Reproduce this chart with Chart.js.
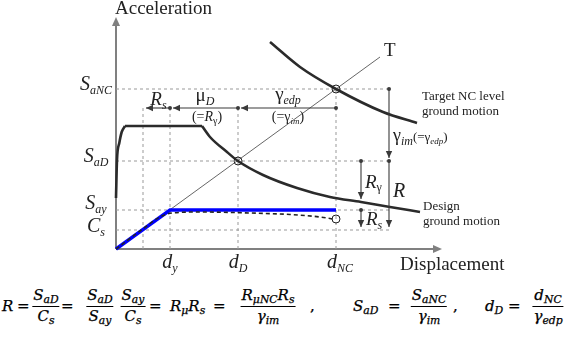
<!DOCTYPE html>
<html><head><meta charset="utf-8">
<script src="https://cdn.jsdelivr.net/npm/chart.js@4/dist/chart.umd.min.js"></script>
<style>
html,body{margin:0;padding:0;background:#fff;}
#wrap{position:relative;width:568px;height:337px;overflow:hidden;background:#fff;}
#c{position:absolute;left:0;top:0;}
.eq{position:absolute;font-family:"DejaVu Serif",serif;font-style:italic;font-size:15px;line-height:16px;color:#000;white-space:nowrap;-webkit-text-stroke:0.25px #000;}
.eq .s{font-size:0.72em;position:relative;top:0.3em;}
.eq .u{font-style:normal;}
.fr{transform:translateX(-50%);text-align:center;}
.fr .n{display:block;padding:0 1px 1px 1px;}
.fr .d{display:block;border-top:1px solid #000;padding:1px 1px 0 1px;}
</style></head>
<body><div id="wrap"><canvas id="c" width="568" height="285"></canvas><div id="eqs"></div></div>
<script>
// ---- levels (schematic units) ----
const xLevelNames = ['Rs', 'dy', 'dD', 'dNC', 'xR1', 'xR2'];
const xLevels     = [2.7, 5.4, 12.2, 22.0, 24.5, 27.3];
const yLevelNames = ['Cs', 'Say', 'SaD', 'SaNC', 'arrowRow', 'curveAtR'];
const yLevels     = [1.9, 3.9, 8.8, 16.0, 14.1, 4.7];
const L = {};
xLevelNames.forEach((n,i)=>L[n]=xLevels[i]);
yLevelNames.forEach((n,i)=>L[n]=yLevels[i]);

// ---- curves ----
const designRiseX  = [0, 0.1, 0.33, 0.57, 0.9];
const designRiseY  = [5.1, 8.9, 10.6, 11.7, 12.3];
const designPlatX  = [0.9, 8.6];
const designPlatY  = [12.3, 12.3];
const designFallX  = [8.6, 9.4, 11.1, 12.2, 14.7, 18.1, 21.4, 24.5, 27.4, 30.4];
const designFallY  = [12.3, 11.2, 9.7, 8.8, 7.4, 6.1, 5.2, 4.7, 4.2, 3.7];
const targetX      = [15.4, 18.4, 22.0, 26.7, 30.1];
const targetY      = [20.7, 18.2, 16.0, 13.7, 12.6];
const periodX      = [0, 26.4];
const periodY      = [0, 19.2];
const bilinearX    = [0, 5.4, 22.0];
const bilinearY    = [0, 3.9, 3.9];
const pushoverX    = [0, 2.4, 4.4, 5.6, 8.4, 13.4, 17.4, 20.4, 21.7];
const pushoverY    = [0, 1.8, 3.2, 3.6, 3.7, 3.6, 3.45, 3.2, 3.0];
const markerX      = [22.0, 12.2, 22.0];
const markerY      = [16.0, 8.8, 3.0];

const X_MAX = 32.6, Y_MAX = 23.2;

function pts(xs, ys){ return xs.map((x,i)=>({x:x, y:ys[i]})); }
function line(xs, ys, st){
  return Object.assign({data: pts(xs,ys), showLine:true, pointRadius:0, pointHoverRadius:0, clip:false, tension:0, fill:false}, st);
}
const gridStyle = {borderColor:'#9a9a9a', borderWidth:1, borderDash:[3,3], order:20};

const datasets = [
  line(markerX, markerY, {showLine:false, pointRadius:4, pointBackgroundColor:'rgba(255,255,255,0)', pointBorderColor:'#222', pointBorderWidth:1, order:0}),
  line(bilinearX, bilinearY, {borderColor:'#0000ff', borderWidth:3.5, order:2}),
  line(pushoverX, pushoverY, {borderColor:'#222', borderWidth:1.6, borderDash:[4,3], cubicInterpolationMode:'monotone', order:1}),
  line(designRiseX, designRiseY, {borderColor:'#2b2b2b', borderWidth:2.6, cubicInterpolationMode:'monotone', order:3}),
  line(designPlatX, designPlatY, {borderColor:'#2b2b2b', borderWidth:2.6, order:3}),
  line(designFallX, designFallY, {borderColor:'#2b2b2b', borderWidth:2.6, cubicInterpolationMode:'monotone', order:3}),
  line(targetX, targetY, {borderColor:'#2b2b2b', borderWidth:2.6, cubicInterpolationMode:'monotone', order:3}),
  line(periodX, periodY, {borderColor:'#555', borderWidth:0.9, order:4}),
  // dashed reference lines
  line([0, L.xR2], [L.SaNC, L.SaNC], gridStyle),
  line([0, L.xR2], [L.SaD, L.SaD], gridStyle),
  line([0, L.xR2], [L.Say, L.Say], gridStyle),
  line([0, L.xR2], [L.Cs, L.Cs], gridStyle),
  line([L.Rs, L.Rs], [0, L.arrowRow], gridStyle),
  line([L.dy, L.dy], [0, L.arrowRow], gridStyle),
  line([L.dD, L.dD], [0, L.arrowRow], gridStyle),
  line([L.dNC, L.dNC], [0, L.SaNC], gridStyle),
];

// dimension arrows: [fromX, fromY, toX, toY]
const arrows = [
  [L.dy, L.arrowRow, L.Rs, L.arrowRow],
  [L.dD, L.arrowRow, L.dy, L.arrowRow],
  [L.dNC, L.arrowRow, L.dD, L.arrowRow],
  [L.xR2, L.SaNC, L.xR2, L.SaD],
  [L.xR2, L.SaD, L.xR2, L.Cs],
  [L.xR1, L.SaD, L.xR1, L.curveAtR],
  [L.xR1, L.Say, L.xR1, L.Cs],
];

const SERIF = '"Liberation Serif","Times New Roman",serif';
function P(t, size, italic, dy){ return {t:t, f:(italic?'italic ':'')+size+'px '+SERIF, dy:dy||0}; }
function rich(ctx, x, y, parts, align){
  let w = 0;
  parts.forEach(p=>{ctx.font=p.f; p.w=ctx.measureText(p.t).width; w+=p.w;});
  let cx = align==='right' ? x-w : align==='center' ? x-w/2 : x;
  parts.forEach(p=>{ctx.font=p.f; ctx.fillText(p.t, cx, y+p.dy); cx+=p.w;});
}
function head(ctx, x1,y1,x2,y2, len, wid){
  const a = Math.atan2(y2-y1, x2-x1);
  ctx.beginPath();
  ctx.moveTo(x2,y2);
  ctx.lineTo(x2-len*Math.cos(a)+wid*Math.sin(a), y2-len*Math.sin(a)-wid*Math.cos(a));
  ctx.lineTo(x2-len*Math.cos(a)-wid*Math.sin(a), y2-len*Math.sin(a)+wid*Math.cos(a));
  ctx.closePath(); ctx.fill();
}

const schematic = {
  id:'schematic',
  beforeDatasetsDraw(chart){
    const ctx = chart.ctx, xs = chart.scales.x, ys = chart.scales.y;
    const x0 = xs.getPixelForValue(0), y0 = ys.getPixelForValue(0);
    const xe = xs.getPixelForValue(X_MAX), ye = ys.getPixelForValue(Y_MAX);
    ctx.save();
    ctx.strokeStyle = '#808080'; ctx.fillStyle = '#808080'; ctx.lineWidth = 2;
    ctx.beginPath(); ctx.moveTo(x0, y0); ctx.lineTo(x0, ye+6); ctx.stroke();
    ctx.beginPath(); ctx.moveTo(x0, y0); ctx.lineTo(xe-6, y0); ctx.stroke();
    head(ctx, x0, y0, x0, ye, 9, 4);
    head(ctx, x0, y0, xe, y0, 9, 4);
    ctx.restore();
  },
  afterDatasetsDraw(chart){
    const ctx = chart.ctx, xs = chart.scales.x, ys = chart.scales.y;
    const X = v=>xs.getPixelForValue(v), Y = v=>ys.getPixelForValue(v);
    ctx.save();
    // arrows
    ctx.strokeStyle = '#3a3a3a'; ctx.fillStyle = '#3a3a3a'; ctx.lineWidth = 1.1;
    arrows.forEach(a=>{
      const x1=X(a[0]), y1=Y(a[1]); let x2=X(a[2]), y2=Y(a[3]);
      const d = Math.hypot(x2-x1,y2-y1), ux=(x2-x1)/d, uy=(y2-y1)/d;
      x2 -= ux*3; y2 -= uy*3;
      ctx.beginPath(); ctx.moveTo(x1,y1); ctx.lineTo(x2,y2); ctx.stroke();
      head(ctx, x1,y1,x2,y2, 7, 3.2);
      ctx.beginPath(); ctx.arc(x1,y1,2,0,Math.PI*2); ctx.fill();
    });
    ctx.fillStyle = '#222'; ctx.textBaseline = 'alphabetic';
    // axis titles
    rich(ctx, X(0)-1, 14, [P('Acceleration',19,0)], 'left');
    rich(ctx, X(X_MAX)-42, Y(0)+21, [P('Displacement',19,0)], 'left');
    // y tick labels
    rich(ctx, X(0)-20, Y(L.SaNC)+1, [P('S',20,1), P('aNC',12,1,4)], 'center');
    rich(ctx, X(0)-20, Y(L.SaD)+1, [P('S',20,1), P('aD',12,1,4)], 'center');
    rich(ctx, X(0)-20, Y(L.Say)-1, [P('S',20,1), P('ay',12,1,4)], 'center');
    rich(ctx, X(0)-20, Y(L.Cs)+2, [P('C',20,1), P('s',12,1,4)], 'center');
    // x tick labels
    rich(ctx, X(L.dy), Y(0)+19, [P('d',20,1), P('y',12,1,4)], 'center');
    rich(ctx, X(L.dD), Y(0)+19, [P('d',20,1), P('D',12,1,4)], 'center');
    rich(ctx, X(L.dNC)+4, Y(0)+19, [P('d',20,1), P('NC',12,1,4)], 'center');
    // top arrow row labels
    const ar = Y(L.arrowRow);
    rich(ctx, (X(L.Rs)+X(L.dy))/2+2, ar-3, [P('R',19,1), P('s',12,1,4)], 'center');
    rich(ctx, (X(L.dy)+X(L.dD))/2+1, ar-7, [P('μ',19,0), P('D',12,1,4)], 'center');
    rich(ctx, (X(L.dy)+X(L.dD))/2+3, ar+13, [P('(=',14,0), P('R',14,1), P('γ',10,0,3), P(')',14,0)], 'center');
    rich(ctx, (X(L.dD)+X(L.dNC))/2+1, ar-8, [P('γ',19,0), P('edp',12,1,4)], 'center');
    rich(ctx, (X(L.dD)+X(L.dNC))/2+1, ar+13, [P('(=γ',14,0), P('im',9,1,3), P(')',14,0)], 'center');
    // T label
    rich(ctx, X(periodX[1])+4, Y(periodY[1])-1, [P('T',19,0)], 'left');
    // right side labels
    rich(ctx, X(L.xR2)+33, Y(L.SaNC)+11, [P('Target NC level',13,0)], 'left');
    rich(ctx, X(L.xR2)+33, Y(L.SaNC)+26, [P('ground motion',13,0)], 'left');
    rich(ctx, X(L.xR2)+4, Y(L.SaD)-20, [P('γ',18,0), P('im',12,1,4), P('(=γ',13,0), P('edp',9,1,3), P(')',13,0)], 'left');
    rich(ctx, X(L.xR2)+4, Y(L.SaD)+36, [P('R',20,1)], 'left');
    rich(ctx, X(L.xR1)+4, Y(L.SaD)+27, [P('R',19,1), P('γ',12,0,3)], 'left');
    rich(ctx, X(L.xR1)+5, Y(L.Say)+15, [P('R',19,1), P('s',12,1,4)], 'left');
    rich(ctx, X(L.xR2)+34, Y(L.Say), [P('Design',13,0)], 'left');
    rich(ctx, X(L.xR2)+34, Y(L.Say)+15, [P('ground motion',13,0)], 'left');
    ctx.restore();
  }
};

new Chart(document.getElementById('c'), {
  type:'scatter',
  data:{datasets:datasets},
  options:{
    responsive:false, animation:false, events:[],
    layout:{padding:{left:116, right:126, top:17, bottom:36}},
    plugins:{legend:{display:false}, tooltip:{enabled:false}},
    scales:{
      x:{type:'linear', min:0, max:X_MAX, display:false},
      y:{type:'linear', min:0, max:Y_MAX, display:false}
    }
  },
  plugins:[schematic]
});

// ---- equations (HTML text) ----
const eqs = document.getElementById('eqs');
function sub(a,b){ return a+'<span class="s">'+b+'</span>'; }
function put(html, x, y, cls){
  const d = document.createElement('div');
  d.className = 'eq' + (cls?' '+cls:'');
  d.style.left = x+'px'; d.style.top = y+'px';
  d.innerHTML = html; eqs.appendChild(d); return d;
}
function frac(n, dd, cx){ return put('<span class="n">'+n+'</span><span class="d">'+dd+'</span>', cx, 287, 'fr'); }
const EQ_Y = 298;
put('R', 2, EQ_Y);
put('<span class="u">=</span>', 17, EQ_Y);
frac(sub('S','aD'), sub('C','s'), 46);
put('<span class="u">=</span>', 61, EQ_Y);
frac(sub('S','aD'), sub('S','ay'), 100);
frac(sub('S','ay'), sub('C','s'), 133);
put('<span class="u">=</span>', 149, EQ_Y);
put(sub('R','μ')+sub('R','s'), 170, EQ_Y);
put('<span class="u">=</span>', 213, EQ_Y);
frac(sub('R','μNC')+sub('R','s'), sub('γ','im'), 268);
put('<span class="u">,</span>', 310, EQ_Y);
put(sub('S','aD'), 353, EQ_Y);
put('<span class="u">=</span>', 388, EQ_Y);
frac(sub('S','aNC'), sub('γ','im'), 429);
put('<span class="u">,</span>', 453, EQ_Y);
put(sub('d','D'), 485, EQ_Y);
put('<span class="u">=</span>', 508, EQ_Y);
frac(sub('d','NC'), sub('γ','edp'), 548);
</script>
</body></html>
